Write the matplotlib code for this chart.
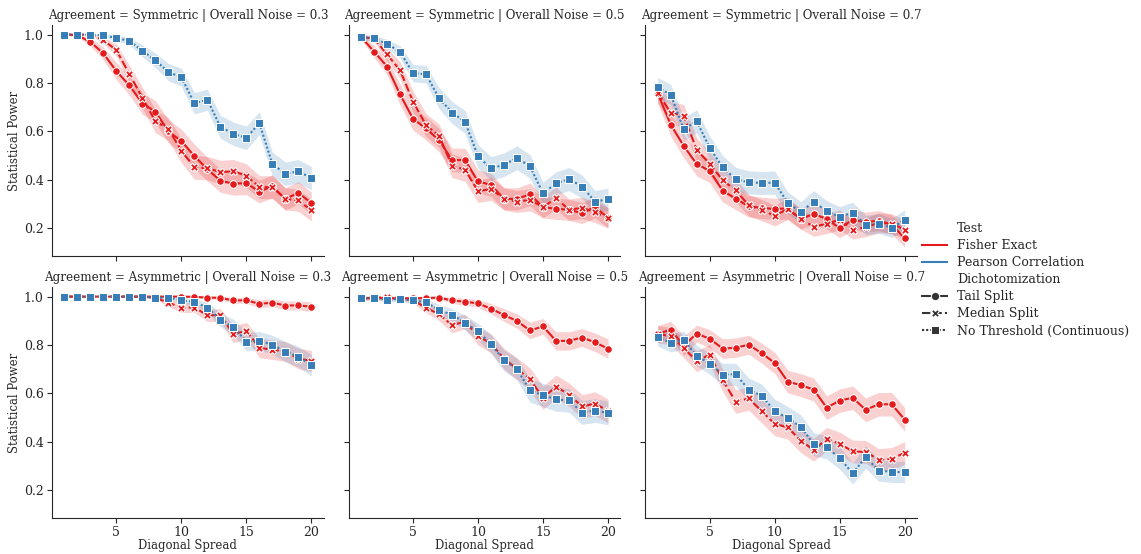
import numpy as np
import matplotlib.pyplot as plt
from matplotlib.lines import Line2D

plt.rcParams['font.family'] = 'DejaVu Serif'

# x values shared by every panel
spread = np.arange(1, 21)

agreements = ["Symmetric", "Asymmetric"]
noises = [0.3, 0.5, 0.7]

# Symmetric agreement
sym_03_tail = [1.0, 0.997, 0.97, 0.922, 0.849, 0.79, 0.715, 0.682, 0.60, 0.56,
               0.498, 0.444, 0.396, 0.384, 0.386, 0.351, 0.373, 0.321, 0.346, 0.304]
sym_03_median = [1.0, 1.0, 1.0, 0.977, 0.936, 0.837, 0.739, 0.642, 0.61, 0.52,
                 0.451, 0.448, 0.432, 0.435, 0.417, 0.37, 0.369, 0.321, 0.315, 0.274]
sym_03_cont = [1.0, 1.0, 1.0, 0.997, 0.986, 0.974, 0.933, 0.894, 0.845, 0.824,
               0.716, 0.731, 0.619, 0.59, 0.573, 0.634, 0.465, 0.425, 0.435, 0.407]

sym_05_tail = [0.99, 0.93, 0.868, 0.753, 0.652, 0.612, 0.564, 0.482, 0.481, 0.393,
               0.379, 0.321, 0.321, 0.34, 0.287, 0.28, 0.276, 0.262, 0.287, 0.243]
sym_05_median = [0.99, 0.984, 0.918, 0.853, 0.723, 0.626, 0.582, 0.458, 0.442, 0.353,
                 0.362, 0.321, 0.31, 0.317, 0.287, 0.324, 0.276, 0.284, 0.266, 0.243]
sym_05_cont = [0.99, 0.984, 0.962, 0.929, 0.841, 0.836, 0.737, 0.678, 0.639, 0.497,
               0.447, 0.462, 0.491, 0.455, 0.344, 0.385, 0.403, 0.372, 0.31, 0.32]

sym_07_tail = [0.757, 0.628, 0.54, 0.465, 0.437, 0.355, 0.322, 0.29, 0.284, 0.279,
               0.282, 0.238, 0.259, 0.238, 0.2, 0.235, 0.225, 0.231, 0.215, 0.158]
sym_07_median = [0.76, 0.677, 0.665, 0.524, 0.466, 0.398, 0.356, 0.295, 0.274, 0.252,
                 0.279, 0.238, 0.206, 0.218, 0.235, 0.194, 0.204, 0.222, 0.219, 0.194]
sym_07_cont = [0.782, 0.752, 0.609, 0.642, 0.532, 0.451, 0.403, 0.389, 0.387, 0.388,
               0.305, 0.266, 0.31, 0.27, 0.247, 0.264, 0.213, 0.219, 0.201, 0.234]

# Asymmetric agreement
asym_03_tail = [1.0, 1.0, 1.0, 1.0, 1.0, 1.0, 1.0, 1.0, 1.0, 1.0,
                0.999, 0.996, 0.995, 0.984, 0.985, 0.97, 0.975, 0.963, 0.964, 0.958]
asym_03_median = [1.0, 1.0, 1.0, 1.0, 1.0, 1.0, 1.0, 0.995, 0.975, 0.955,
                  0.955, 0.923, 0.923, 0.845, 0.859, 0.788, 0.781, 0.773, 0.744, 0.734]
asym_03_cont = [1.0, 1.0, 1.0, 1.0, 1.0, 1.0, 1.0, 0.996, 0.996, 0.984,
                0.978, 0.955, 0.904, 0.874, 0.814, 0.818, 0.801, 0.773, 0.752, 0.716]

asym_05_tail = [0.993, 0.995, 0.993, 0.993, 0.993, 0.994, 0.996, 0.984, 0.979, 0.972,
                0.95, 0.924, 0.899, 0.86, 0.877, 0.817, 0.817, 0.831, 0.811, 0.785]
asym_05_median = [0.993, 0.995, 0.998, 0.993, 0.985, 0.954, 0.927, 0.882, 0.897, 0.836,
                  0.807, 0.743, 0.702, 0.658, 0.582, 0.628, 0.595, 0.546, 0.558, 0.527]
asym_05_cont = [0.993, 0.995, 0.987, 0.991, 0.984, 0.977, 0.945, 0.925, 0.892, 0.856,
                0.804, 0.736, 0.70, 0.612, 0.593, 0.575, 0.571, 0.521, 0.529, 0.519]

asym_07_tail = [0.845, 0.864, 0.797, 0.847, 0.826, 0.785, 0.789, 0.801, 0.766, 0.726,
                0.649, 0.634, 0.616, 0.541, 0.57, 0.582, 0.532, 0.555, 0.555, 0.492]
asym_07_median = [0.845, 0.837, 0.788, 0.733, 0.76, 0.655, 0.566, 0.579, 0.527, 0.474,
                  0.46, 0.404, 0.367, 0.411, 0.392, 0.36, 0.358, 0.326, 0.33, 0.354]
asym_07_cont = [0.832, 0.81, 0.819, 0.756, 0.723, 0.678, 0.679, 0.616, 0.59, 0.527,
                0.497, 0.463, 0.39, 0.377, 0.333, 0.269, 0.337, 0.281, 0.276, 0.274]

panels = {
    ("Symmetric", 0.3): (sym_03_tail, sym_03_median, sym_03_cont),
    ("Symmetric", 0.5): (sym_05_tail, sym_05_median, sym_05_cont),
    ("Symmetric", 0.7): (sym_07_tail, sym_07_median, sym_07_cont),
    ("Asymmetric", 0.3): (asym_03_tail, asym_03_median, asym_03_cont),
    ("Asymmetric", 0.5): (asym_05_tail, asym_05_median, asym_05_cont),
    ("Asymmetric", 0.7): (asym_07_tail, asym_07_median, asym_07_cont),
}

n_reps = 400  # simulations per point, used for the CI band

red = "#e41a1c"
blue = "#377eb8"
# (color, marker, dashes) for tail split, median split, continuous
styles = [(red, "o", ""), (red, "X", (4, 1.5)), (blue, "s", (1, 1))]
text_color = "#262626"

fig, axes = plt.subplots(2, 3, figsize=(11.41, 5.54), dpi=100,
                         sharex=True, sharey=True)
fig.subplots_adjust(left=0.0456, right=0.8037, top=0.955, bottom=0.065,
                    wspace=0.092, hspace=0.134)

for r, agr in enumerate(agreements):
    for c, noise in enumerate(noises):
        ax = axes[r, c]
        for vals, (col, mk, dash) in zip(panels[(agr, noise)], styles):
            p = np.array(vals)
            half = 1.96 * np.sqrt(p * (1 - p) / n_reps)
            ax.fill_between(spread, p - half, p + half, color=col, alpha=0.2,
                            linewidth=0)
            line, = ax.plot(spread, p, color=col, marker=mk, markersize=5.5,
                            markeredgecolor="white", markeredgewidth=0.75,
                            linewidth=1.5)
            if dash:
                line.set_dashes(dash)
        ax.set_title(f"Agreement = {agr} | Overall Noise = {noise}",
                     fontsize=8.6, color=text_color, pad=4)
        ax.spines["top"].set_visible(False)
        ax.spines["right"].set_visible(False)
        for s in ("left", "bottom"):
            ax.spines[s].set_color(text_color)
        ax.tick_params(labelsize=9, colors=text_color, length=3.5, pad=2.5)
        if c == 0:
            ax.set_ylabel("Statistical Power", fontsize=8.4, color=text_color,
                          labelpad=2)
        if r == 1:
            ax.set_xlabel("Diagonal Spread", fontsize=8.4, color=text_color,
                          labelpad=0)

axes[0, 0].set_ylim(0.085, 1.04)
axes[0, 0].set_xlim(0.05, 20.95)
axes[0, 0].set_xticks([5, 10, 15, 20])
axes[0, 0].set_yticks([0.2, 0.4, 0.6, 0.8, 1.0])

blank = Line2D([], [], linestyle="none", marker="")
handles = [
    blank,
    Line2D([], [], color=red, linewidth=1.5),
    Line2D([], [], color=blue, linewidth=1.5),
    blank,
    Line2D([], [], color=".2", marker="o", markeredgecolor="white",
           markeredgewidth=0.75, linewidth=1.5),
    Line2D([], [], color=".2", marker="X", markeredgecolor="white",
           markeredgewidth=0.75, linewidth=1.5, dashes=(4, 1.5)),
    Line2D([], [], color=".2", marker="s", markeredgecolor="white",
           markeredgewidth=0.75, linewidth=1.5, dashes=(1, 1)),
]
labels = ["Test", "Fisher Exact", "Pearson Correlation", "Dichotomization",
          "Tail Split", "Median Split", "No Threshold (Continuous)"]
leg = fig.legend(handles, labels, loc="center left", bbox_to_anchor=(0.804, 0.4946),
                 frameon=False, fontsize=9, handlelength=2.0,
                 labelspacing=0.32, borderaxespad=0)
for t in leg.get_texts():
    t.set_color(text_color)

fig.savefig("out.png", dpi=100)
